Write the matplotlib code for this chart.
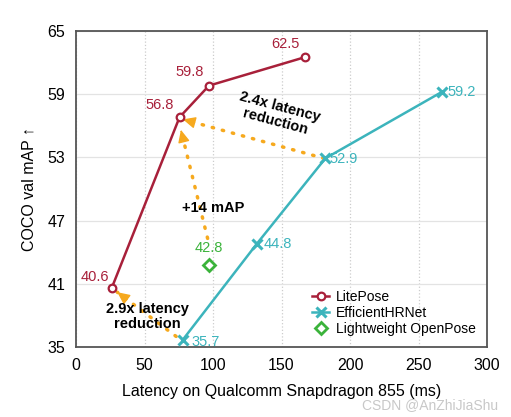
import matplotlib
matplotlib.use("Agg")
import matplotlib.pyplot as plt

# data
lite_lat = [26, 75.5, 97, 167]
lite_map = [40.6, 56.8, 59.8, 62.5]
hrnet_lat = [78, 132, 182, 267]
hrnet_map = [35.7, 44.8, 52.9, 59.2]
openpose_lat = [97]
openpose_map = [42.8]

RED = "#a8203a"
TEAL = "#3cb4bc"
GREEN = "#3bb33b"
ORANGE = "#f6a91e"

plt.rcParams["font.family"] = ["Liberation Sans", "DejaVu Sans"]

fig = plt.figure(figsize=(5.11, 4.17), dpi=100)
ax = fig.add_axes([0.149, 0.168, 0.804, 0.758])

ax.plot(lite_lat, lite_map, color=RED, lw=1.8, marker="o", ms=5.5,
        mfc="white", mec=RED, mew=1.6, label="LitePose", zorder=4)
ax.plot(hrnet_lat, hrnet_map, color=TEAL, lw=1.8, marker="x", ms=7,
        mew=2.2, label="EfficientHRNet", zorder=4)
ax.plot(openpose_lat, openpose_map, ls="none", marker="D", ms=6.5,
        mfc="white", mec=GREEN, mew=2.0, label="Lightweight OpenPose", zorder=4)

# value labels
lbl_kw = dict(fontsize=10.5)
ax.text(26 - 2, 41.6, "40.6", color=RED, ha="right", va="center", **lbl_kw)
ax.text(61, 58.0, "56.8", color=RED, ha="center", va="center", **lbl_kw)
ax.text(83, 61.1, "59.8", color=RED, ha="center", va="center", **lbl_kw)
ax.text(153, 63.8, "62.5", color=RED, ha="center", va="center", **lbl_kw)
ax.text(84, 35.5, "35.7", color=TEAL, ha="left", va="center", **lbl_kw)
ax.text(137, 44.8, "44.8", color=TEAL, ha="left", va="center", **lbl_kw)
ax.text(185, 52.8, "52.9", color=TEAL, ha="left", va="center", **lbl_kw)
ax.text(271, 59.2, "59.2", color=TEAL, ha="left", va="center", **lbl_kw)
ax.text(97, 44.4, "42.8", color=GREEN, ha="center", va="center", **lbl_kw)


def dotted_arrow(x0, y0, x1, y1):
    # dotted shaft, solid head
    ax.plot([x0, x1], [y0, y1], color=ORANGE, lw=2.5,
            ls=(0, (0.4, 2.6)), dash_capstyle="round", zorder=3)
    fx = x1 - (x1 - x0) * 0.02
    fy = y1 - (y1 - y0) * 0.02
    ax.annotate("", xy=(x1, y1), xytext=(fx, fy), zorder=3,
                arrowprops=dict(arrowstyle="-|>,head_length=0.75,head_width=0.35",
                                color=ORANGE, lw=1.0, shrinkA=0, shrinkB=0))


dotted_arrow(181, 52.9, 78, 56.6)
dotted_arrow(96, 45.3, 76.5, 55.6)
dotted_arrow(73, 36.0, 30, 40.2)

ax.text(147, 57.1, "2.4x latency\nreduction", ha="center", va="center",
        fontsize=10.5, fontweight="bold", rotation=-15, linespacing=1.1)
ax.text(100, 48.2, "+14 mAP", ha="center", va="center",
        fontsize=10.5, fontweight="bold")
ax.text(52, 37.9, "2.9x latency\nreduction", ha="center", va="center",
        fontsize=10.5, fontweight="bold", linespacing=1.1)

ax.set_xlim(0, 300)
ax.set_ylim(35, 65)
ax.set_xticks([0, 50, 100, 150, 200, 250, 300])
ax.set_yticks([35, 41, 47, 53, 59, 65])
ax.tick_params(length=0, labelsize=11.5, pad=8)
ax.grid(axis="x", color="#cccccc", ls=":", lw=0.9)
ax.grid(axis="y", color="#e3e3e3", ls="-", lw=0.9)
ax.set_axisbelow(True)
for s in ax.spines.values():
    s.set_color("#555555")
    s.set_linewidth(1.3)

ax.set_xlabel("Latency on Qualcomm Snapdragon 855 (ms)", fontsize=11.5, labelpad=8)
ax.set_ylabel("COCO val mAP \u2191", fontsize=11.5, labelpad=8)

ax.legend(loc="lower right", frameon=False, fontsize=10, handlelength=1.2,
          handletextpad=0.5, labelspacing=0.15, borderaxespad=0.4)

fig.text(0.975, 0.012, "CSDN @AnZhiJiaShu", ha="right", va="bottom",
         fontsize=10, color="#c8c8c8")

fig.savefig("out.png", dpi=100)
